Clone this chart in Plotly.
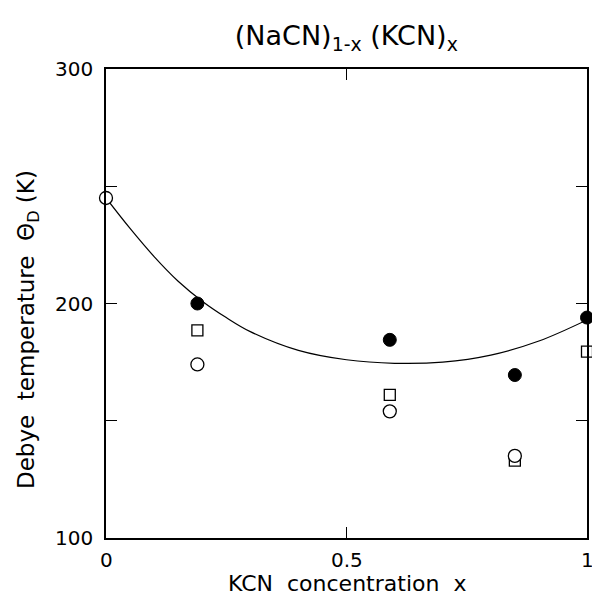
import plotly.graph_objects as go

# Data
x_filled = [0.19, 0.59, 0.85, 1.0]
y_filled = [200.0, 184.5, 169.5, 194.0]

x_square = [0.19, 0.59, 0.85, 1.0]
y_square = [188.5, 161.0, 133.0, 179.5]

x_open = [0.0, 0.19, 0.59, 0.85]
y_open = [245.0, 174.0, 154.0, 135.0]

x_curve = [0.0, 0.05, 0.1, 0.15, 0.2, 0.25, 0.3, 0.4, 0.5, 0.6, 0.7, 0.8, 0.9, 1.0]
y_curve = [245.0, 232.0, 220.0, 209.5, 201.0, 194.0, 188.0, 180.0, 176.0, 174.5, 175.0, 178.0, 184.0, 193.0]

x_ticks = [0, 0.5, 1]
x_ticktext = ["0", "0.5", "1"]
y_ticks = [100, 150, 200, 250, 300]
y_ticktext = ["100", "", "200", "", "300"]

FONT = "DejaVu Sans"

fig = go.Figure()
fig.add_trace(go.Scatter(x=x_curve, y=y_curve, mode="lines", line=dict(color="black", width=1.2, shape="spline"),
                         hoverinfo="skip", showlegend=False, cliponaxis=False))
fig.add_trace(go.Scatter(x=x_square, y=y_square, mode="markers", cliponaxis=False, showlegend=False,
                         marker=dict(symbol="square", size=11, color="white", line=dict(color="black", width=1.3))))
fig.add_trace(go.Scatter(x=x_open, y=y_open, mode="markers", cliponaxis=False, showlegend=False,
                         marker=dict(symbol="circle", size=13, color="white", line=dict(color="black", width=1.3))))
fig.add_trace(go.Scatter(x=x_filled, y=y_filled, mode="markers", cliponaxis=False, showlegend=False,
                         marker=dict(symbol="circle", size=13, color="black", line=dict(color="black", width=1))))

# x tick labels as annotations so the "1" at the right edge is not dropped
for xv, xt in zip(x_ticks, x_ticktext):
    fig.add_annotation(x=xv, xref="x", y=0, yref="paper", yshift=-22, text=xt, showarrow=False,
                       xanchor="center", yanchor="middle", font=dict(family=FONT, size=20, color="black"))

# axis titles
fig.add_annotation(x=0.5, xref="paper", y=0, yref="paper", yshift=-45, text="KCN  concentration  x",
                   showarrow=False, xanchor="center", yanchor="middle",
                   font=dict(family=FONT, size=22, color="black"))
fig.add_annotation(x=0, xref="paper", xshift=-78, y=0.4435, yref="paper",
                   text="Debye  temperature  Θ<sub>D</sub> (K)", textangle=-90,
                   showarrow=False, xanchor="center", yanchor="middle",
                   font=dict(family=FONT, size=23, color="black"))

fig.update_layout(
    width=592, height=598,
    margin=dict(l=106, r=3, t=69, b=60),
    paper_bgcolor="white", plot_bgcolor="white",
    font=dict(family=FONT, color="black", size=19),
    title=dict(text="(NaCN)<sub>1-x</sub> (KCN)<sub>x</sub>", x=0.585, xanchor="center", y=0.94, yanchor="middle",
               font=dict(family=FONT, size=27, color="black")),
)
fig.update_xaxes(range=[0, 1], tickvals=x_ticks, ticktext=["", "", ""], ticks="inside", ticklen=11,
                 tickcolor="black", tickwidth=1.2, showline=True, linecolor="black", linewidth=1.6,
                 mirror="allticks", showgrid=False, zeroline=False)
fig.update_yaxes(range=[100, 300], tickvals=y_ticks, ticktext=y_ticktext, ticks="inside", ticklen=11,
                 tickcolor="black", tickwidth=1.2, showline=True, linecolor="black", linewidth=1.6,
                 mirror="allticks", showgrid=False, zeroline=False, ticklabelstandoff=7,
                 tickfont=dict(family=FONT, size=20))

fig.write_html("out.html")
